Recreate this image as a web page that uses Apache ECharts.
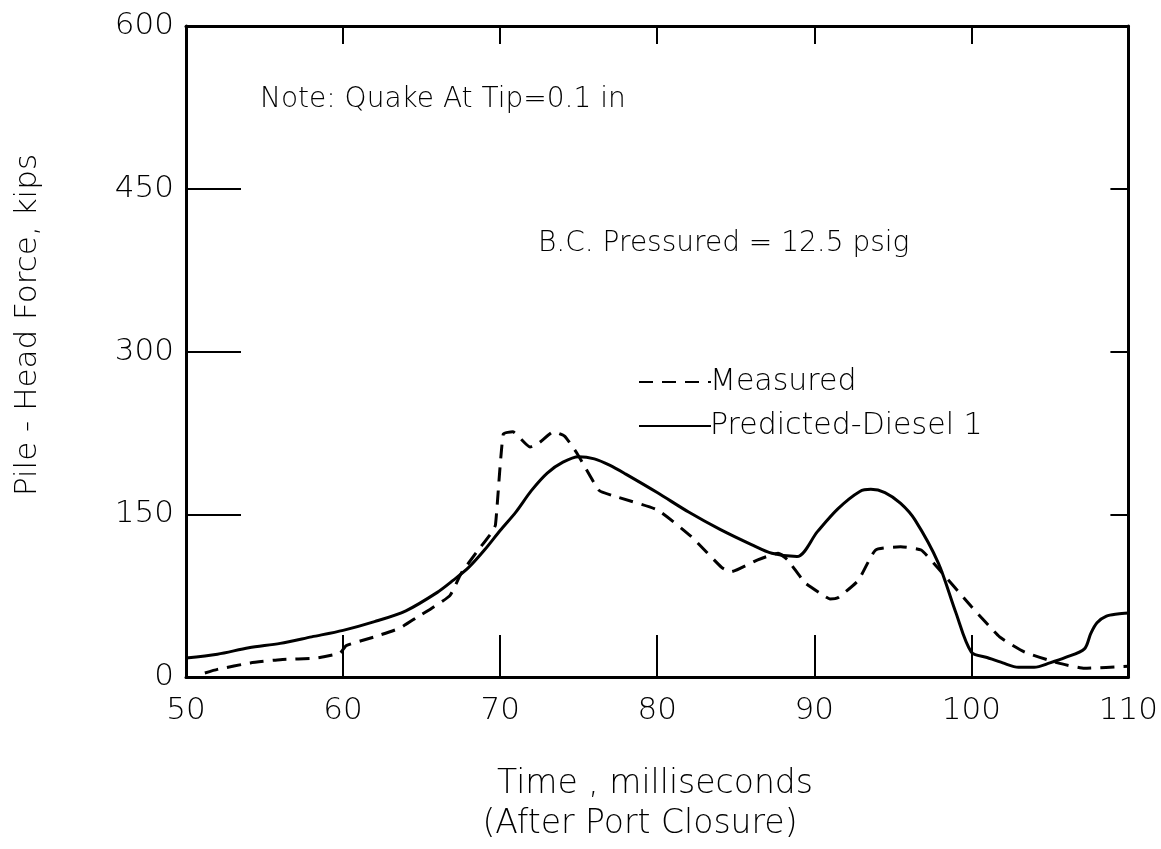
<!DOCTYPE html>
<html>
<head>
<meta charset="utf-8">
<script src="https://cdn.jsdelivr.net/npm/echarts@6/dist/echarts.min.js"></script>
<style>
html,body{margin:0;padding:0;background:#fff;}
#chart{width:1161px;height:849px;}
</style>
</head>
<body>
<div id="chart"></div>
<script>
// ---- data ----
const xTicks = [50, 60, 70, 80, 90, 100, 110];
const yTicks = [0, 150, 300, 450, 600];

const measuredTime  = [51.2, 52, 54.1, 56, 58.3, 59.8, 60.2, 62, 63.6, 64.7, 65.6, 66.8, 67.5, 68.5, 69.4, 69.7, 70.2, 70.8, 71.9, 72.5, 73.4, 74.1, 74.9, 76.3, 77.2, 80, 82.2, 84.1, 84.7, 86.4, 87.7, 88.3, 89.4, 90.4, 91.0, 91.5, 92.8, 93.9, 95.5, 96.8, 97.9, 100, 101.8, 103.4, 105.5, 107.2, 110];
const measuredForce = [3.7, 7, 13, 16, 17.5, 22, 29, 37, 45, 55, 63, 75, 95, 115, 132, 140, 224, 226, 212, 216, 226, 222, 206, 172, 167, 154, 129, 101, 97, 108, 114, 108, 87, 77, 72, 73, 89, 117, 120, 117, 100, 65, 37, 23, 13, 8, 10];

const predictedTime  = [50, 52, 54, 56, 58, 60, 62, 64, 66, 67, 68, 69, 70, 71, 72, 73, 74, 75, 76, 77, 78, 80, 82, 84, 86, 87.3, 88.9, 90.2, 91.5, 92.9, 93.6, 94.5, 95.5, 96.4, 97.9, 99, 100, 101, 102, 103, 104, 105, 106, 107.2, 107.6, 108, 108.6, 109.3, 110];
const predictedForce = [17.5, 21, 27, 31, 37, 43, 51, 61, 78, 89, 101, 117, 135, 152, 172, 188, 198, 203, 201, 195, 187, 170, 152, 136, 122, 114, 111, 134, 155, 171, 173, 170, 160, 145, 105, 60, 23, 18, 13, 9, 9, 13, 18, 26, 40, 50, 56, 58, 59];

const seriesNames = ['Measured', 'Predicted-Diesel 1'];
const noteText = 'Note: Quake At Tip=0.1 in';
const pressureText = 'B.C. Pressured = 12.5 psig';
const xTitle1 = 'Time , milliseconds';
const xTitle2 = '(After Port Closure)';
const yTitle = 'Pile - Head Force, kips';

// ---- chart ----
const FONT = '"DejaVu Sans", sans-serif';
const pairs = (xs, ys) => xs.map((x, i) => [x, ys[i]]);
const chart = echarts.init(document.getElementById('chart'));
const axisLine = { show: true, onZero: false, lineStyle: { color: '#000', width: 3 } };

chart.setOption({
  backgroundColor: '#fff',
  animation: false,
  grid: { left: 186, right: 30, top: 26, bottom: 172, containLabel: false },
  xAxis: [
    {
      type: 'value', position: 'bottom', min: xTicks[0], max: xTicks[xTicks.length - 1], interval: 10,
      axisLine: axisLine,
      axisTick: { show: true, inside: true, length: 42, lineStyle: { color: '#000', width: 2 } },
      axisLabel: { show: true, margin: 18, color: '#000', fontSize: 31, fontFamily: FONT, fontWeight: 200 },
      splitLine: { show: false }
    },
    {
      type: 'value', position: 'top', min: xTicks[0], max: xTicks[xTicks.length - 1], interval: 10,
      axisLine: axisLine,
      axisTick: { show: true, inside: true, length: 18, lineStyle: { color: '#000', width: 2 } },
      axisLabel: { show: false }, splitLine: { show: false }
    }
  ],
  yAxis: [
    {
      type: 'value', position: 'left', min: yTicks[0], max: yTicks[yTicks.length - 1], interval: 150,
      axisLine: axisLine,
      axisTick: { show: true, inside: true, length: 55, lineStyle: { color: '#000', width: 2 } },
      axisLabel: { show: true, margin: 12, color: '#000', fontSize: 31, fontFamily: FONT, fontWeight: 200 },
      splitLine: { show: false }
    },
    {
      type: 'value', position: 'right', min: yTicks[0], max: yTicks[yTicks.length - 1], interval: 150,
      axisLine: axisLine,
      axisTick: { show: true, inside: true, length: 18, lineStyle: { color: '#000', width: 2 } },
      axisLabel: { show: false }, splitLine: { show: false }
    }
  ],
  legend: {
    orient: 'vertical', left: 633, top: 362, itemGap: 14,
    itemWidth: 72, itemHeight: 20,
    data: seriesNames,
    itemStyle: { opacity: 0 },
    textStyle: { color: '#000', fontSize: 30, fontFamily: FONT, fontWeight: 200, padding: [0, 0, 0, -6] }
  },
  series: [
    {
      name: seriesNames[0], type: 'line', symbol: 'none', smooth: 0.15,
      data: pairs(measuredTime, measuredForce),
      lineStyle: { color: '#000', width: 3, type: [14, 9] },
      itemStyle: { color: '#000' }
    },
    {
      name: seriesNames[1], type: 'line', symbol: 'none', smooth: 0.3,
      data: pairs(predictedTime, predictedForce),
      lineStyle: { color: '#000', width: 3, type: 'solid' },
      itemStyle: { color: '#000' }
    }
  ],
  graphic: [
    { type: 'text', left: 260, top: 86, style: { text: noteText, fill: '#000', fontSize: 28, fontFamily: FONT, fontWeight: 200 } },
    { type: 'text', left: 538, top: 230, style: { text: pressureText, fill: '#000', fontSize: 28, fontFamily: FONT, fontWeight: 200 } },
    { type: 'text', x: 655, y: 784, style: { text: xTitle1, fill: '#000', fontSize: 33, fontFamily: FONT, fontWeight: 200, align: 'center', verticalAlign: 'middle' } },
    { type: 'text', x: 640, y: 824, style: { text: xTitle2, fill: '#000', fontSize: 33, fontFamily: FONT, fontWeight: 200, align: 'center', verticalAlign: 'middle' } },
    { type: 'text', x: 28, y: 325, rotation: Math.PI / 2, style: { text: yTitle, fill: '#000', fontSize: 31, fontFamily: FONT, fontWeight: 200, align: 'center', verticalAlign: 'middle' } }
  ]
});
</script>
</body>
</html>
